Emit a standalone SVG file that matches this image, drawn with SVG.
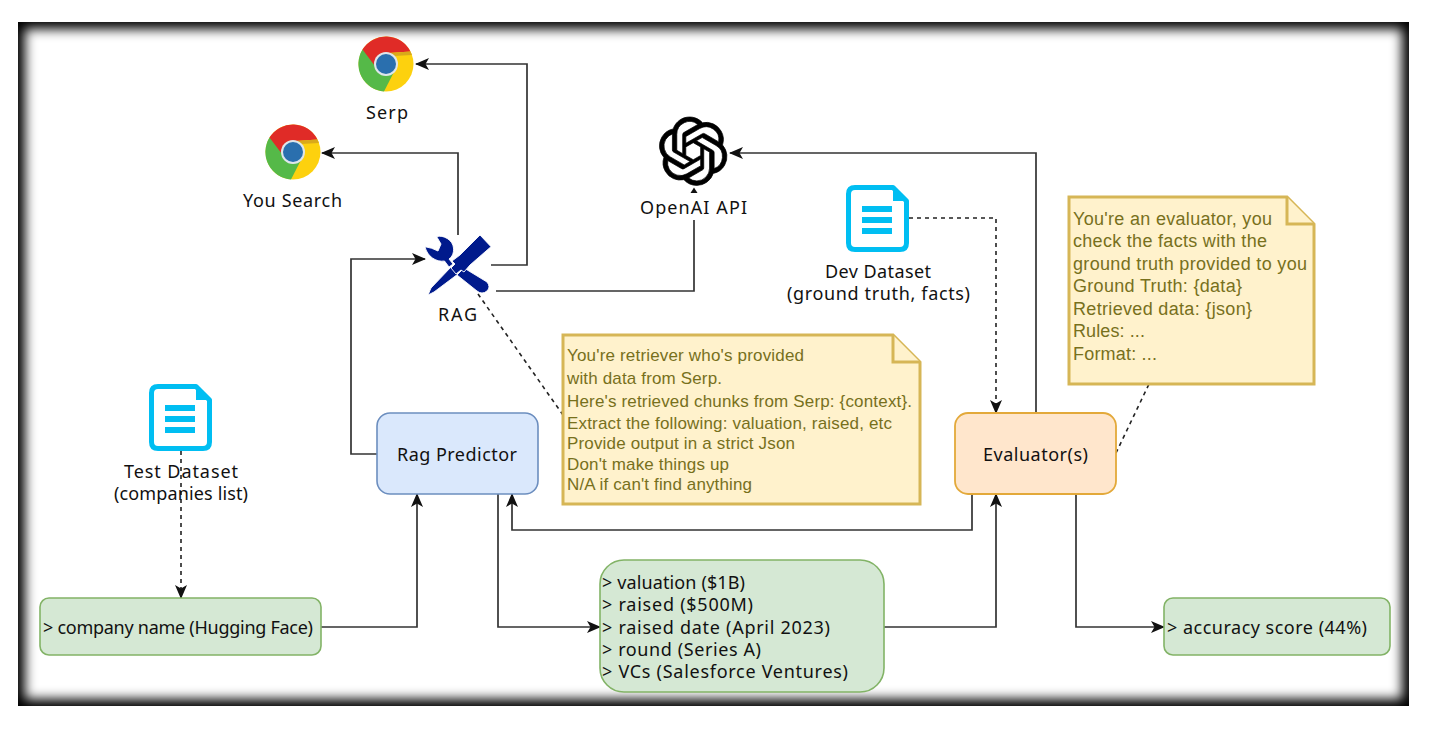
<svg xmlns="http://www.w3.org/2000/svg" xmlns:xlink="http://www.w3.org/1999/xlink" width="1434" height="732" viewBox="0 0 1434 732">
<style>
.lbl{font-family:"Noto Sans","DejaVu Sans",sans-serif;font-size:18px;fill:#111}
.mid{text-anchor:middle}
.note{font-family:"Liberation Sans",Arial,sans-serif;font-size:17px;fill:#77701c}
.note2{font-size:18px}
.notebox{fill:#fff2cc;stroke:#d6b656;stroke-width:3}
.green{fill:#d5e8d4;stroke:#82b366;stroke-width:1.6}
.edge{fill:none;stroke:#333;stroke-width:1.7}
.dash{fill:none;stroke:#222;stroke-width:1.6;stroke-dasharray:4 4}
.tool{fill:#001a8c;stroke:#fff;stroke-width:0.9}
</style>
<defs>
<filter id="blur" x="-5%" y="-5%" width="110%" height="110%"><feGaussianBlur stdDeviation="6"/></filter>
<clipPath id="frameClip"><rect x="18" y="22" width="1391" height="684"/></clipPath>
<marker id="arrow" viewBox="0 0 14 12" refX="13" refY="6" markerWidth="14" markerHeight="12" markerUnits="userSpaceOnUse" orient="auto">
<path d="M0,0 L14,6 L0,12 L3.5,6 Z" fill="#111"/>
</marker>
<symbol id="chrome" viewBox="-28 -28 56 56" overflow="visible">
<circle r="27.5" fill="#fdd10e"/>
<path d="M-23.5,-14.5 A27.5,27.5 0 0 0 -2,27.4 L9,6 L0,0 Z" fill="#55b948"/>
<path d="M-23.5,-14.5 A27.5,27.5 0 0 1 24.5,-12.4 L2,-11 L-11,2 Z" fill="#e02b27"/>
<path d="M3,-11 L24.5,-12.4 L26,-9 L8,-8 Z" fill="#d9a91a"/>
<circle r="12" fill="#dfe6ea"/>
<circle r="10" fill="#2a6fae"/>
</symbol>
<symbol id="doc" viewBox="0 0 63 67" overflow="visible">
<path d="M9,2.5 H47 L60.5,16 V58 Q60.5,64.500 54,64.500 H9 Q2.5,64.500 2.5,58 V9 Q2.5,2.500 9,2.500 Z" fill="#fff" stroke="#00bef2" stroke-width="5" stroke-linejoin="round"/>
<path d="M47,1 L62,16 H47 Z" fill="#00bef2"/>
<rect x="16" y="21" width="30" height="6" fill="#00bef2"/>
<rect x="16" y="32" width="30" height="6" fill="#00bef2"/>
<rect x="16" y="43" width="30" height="6" fill="#00bef2"/>
</symbol>
</defs>
<rect width="1434" height="732" fill="#fff"/>
<g id="frame" clip-path="url(#frameClip)">
<rect x="18" y="22" width="1391" height="684" fill="#000"/>
<rect x="25" y="29" width="1377" height="670" fill="#fff" filter="url(#blur)"/>
</g>
<g id="connectors">
<path class="dash" d="M181,451 V598" marker-end="url(#arrow)"/>
<path class="edge" d="M321,627 H417 V494" marker-end="url(#arrow)"/>
<path class="edge" d="M377,454 H351 V259 H425" marker-end="url(#arrow)"/>
<path class="edge" d="M458,235 V153 H322" marker-end="url(#arrow)"/>
<path class="edge" d="M491,265 H527 V64 H416" marker-end="url(#arrow)"/>
<path class="edge" d="M496,291 H694 V220"/>
<path d="M694,187.500 L697.500,193 H690.500 Z" fill="#111"/>
<path class="edge" d="M1036,413 V153 H730" marker-end="url(#arrow)"/>
<path class="dash" d="M909,218 H996 V413" marker-end="url(#arrow)"/>
<path class="edge" d="M498,494 V627 H600" marker-end="url(#arrow)"/>
<path class="edge" d="M884,627 H996 V494" marker-end="url(#arrow)"/>
<path class="edge" d="M972,494 V530 H512 V494" marker-end="url(#arrow)"/>
<path class="edge" d="M1076,494 V627 H1164" marker-end="url(#arrow)"/>
<path class="dash" d="M478,294 L563,415"/>
<path class="dash" d="M1116,453 L1149,384"/>
</g>
<g id="serp">
<use xlink:href="#chrome" href="#chrome" x="358" y="36" width="56" height="56"/>
<text class="lbl mid" x="387" y="119" textLength="42">Serp</text>
</g>
<g id="you-search">
<use xlink:href="#chrome" href="#chrome" x="265" y="124" width="56" height="56"/>
<text class="lbl mid" x="292.500" y="207" textLength="99">You Search</text>
</g>
<g id="rag">
<path class="tool" d="M436.700,236.700 C443,234.500 453,240 453.500,248 C454,253 452,257 449,259 L453,264 L449,267 L444.500,261 C436,262.500 427,256 425,246.700 L431.700,248.300 L438,251 L441,244 Z"/>
<path class="tool" d="M457,275 L464,268 L487,282 Q491,287 487,291 Q482,295 477,291 Z"/>
<path class="tool" d="M451,267 L458,274 L434,292 L428,295 L431,288 Z"/>
<path class="tool" d="M480,235 L491,246.700 L470,265 L464,272 L461,270 L456,274 L451,268 L455,264 L452,261 L460,255 Z"/>
<text class="lbl mid" x="457.500" y="321" textLength="39">RAG</text>
</g>
<g id="openai">
<path transform="translate(659,117) scale(2.85)" fill="#000" stroke="#000" stroke-width="0.25" d="M22.2819 9.8211a5.9847 5.9847 0 0 0-.5157-4.9108 6.0462 6.0462 0 0 0-6.5098-2.9A6.0651 6.0651 0 0 0 4.9807 4.1818a5.9847 5.9847 0 0 0-3.9977 2.9 6.0462 6.0462 0 0 0 .7427 7.0966 5.98 5.98 0 0 0 .511 4.9107 6.051 6.051 0 0 0 6.5146 2.9001A5.9847 5.9847 0 0 0 13.2599 24a6.0557 6.0557 0 0 0 5.7718-4.2058 5.9894 5.9894 0 0 0 3.9977-2.9001 6.0557 6.0557 0 0 0-.7475-7.0729zm-9.022 12.6081a4.4755 4.4755 0 0 1-2.8764-1.0408l.1419-.0804 4.7783-2.7582a.7948.7948 0 0 0 .3927-.6813v-6.7369l2.02 1.1686a.071.071 0 0 1 .038.052v5.5826a4.504 4.504 0 0 1-4.4945 4.4944zm-9.6607-4.1254a4.4708 4.4708 0 0 1-.5346-3.0137l.142.0852 4.783 2.7582a.7712.7712 0 0 0 .7806 0l5.8428-3.3685v2.3324a.0804.0804 0 0 1-.0332.0615L9.74 19.9502a4.4992 4.4992 0 0 1-6.1408-1.6464zM2.3408 7.8956a4.485 4.485 0 0 1 2.3655-1.9728V11.6a.7664.7664 0 0 0 .3879.6765l5.8144 3.3543-2.0201 1.1685a.0757.0757 0 0 1-.071 0l-4.8303-2.7865A4.504 4.504 0 0 1 2.3408 7.872zm16.5963 3.8558L13.1038 8.364 15.1192 7.2a.0757.0757 0 0 1 .071 0l4.8303 2.7913a4.4944 4.4944 0 0 1-.6765 8.1042v-5.6772a.79.79 0 0 0-.407-.667zm2.0107-3.0231l-.142-.0852-4.7735-2.7818a.7759.7759 0 0 0-.7854 0L9.409 9.2297V6.8974a.0662.0662 0 0 1 .0284-.0615l4.8303-2.7866a4.4992 4.4992 0 0 1 6.6802 4.66zM8.3065 12.863l-2.02-1.1638a.0804.0804 0 0 1-.038-.0567V6.0742a4.4992 4.4992 0 0 1 7.3757-3.4537l-.142.0805L8.704 5.459a.7948.7948 0 0 0-.3927.6813zm1.0976-2.3654l2.602-1.4998 2.6069 1.4998v2.9994l-2.5974 1.4997-2.6067-1.4997Z"/>
<rect x="636" y="195" width="114" height="25" fill="#fff"/>
<text class="lbl mid" x="693.500" y="214" textLength="107">OpenAI API</text>
</g>
<g id="dev-dataset">
<use xlink:href="#doc" href="#doc" x="846" y="185" width="63" height="67"/>
<text class="lbl mid" x="878" y="278" textLength="106">Dev Dataset</text>
<text class="lbl mid" x="878.500" y="300" textLength="183">(ground truth, facts)</text>
</g>
<g id="test-dataset">
<use xlink:href="#doc" href="#doc" x="149" y="384" width="63" height="67"/>
<text class="lbl mid" x="181" y="478" textLength="114">Test Dataset</text>
<text class="lbl mid" x="181" y="500" textLength="134">(companies list)</text>
</g>
<g id="rag-predictor">
<rect x="377" y="413" width="161" height="81" rx="13" fill="#dae8fc" stroke="#6c8ebf" stroke-width="1.6"/>
<text class="lbl mid" x="457" y="461" textLength="120">Rag Predictor</text>
</g>
<g id="evaluator">
<rect x="955" y="413" width="161" height="81" rx="13" fill="#ffe6cc" stroke="#e3a93a" stroke-width="1.8"/>
<text class="lbl mid" x="1035.500" y="461" textLength="105">Evaluator(s)</text>
</g>
<g id="retriever-note">
<path class="notebox" d="M563,335 H893 L920,362 V504 H563 Z"/>
<path class="notebox" d="M893,335 V362 H920"/>
<text class="note" x="567" y="361" textLength="237">You're retriever who's provided</text>
<text class="note" x="567" y="384" textLength="155">with data from Serp.</text>
<text class="note" x="567" y="407" textLength="345">Here's retrieved chunks from Serp: {context}.</text>
<text class="note" x="567" y="429" textLength="325">Extract the following: valuation, raised, etc</text>
<text class="note" x="567" y="449" textLength="228">Provide output in a strict Json</text>
<text class="note" x="567" y="470" textLength="162">Don't make things up</text>
<text class="note" x="567" y="490" textLength="185">N/A if can't find anything</text>
</g>
<g id="evaluator-note">
<path class="notebox" d="M1069,197 H1287 L1314,224 V384 H1069 Z"/>
<path class="notebox" d="M1287,197 V224 H1314"/>
<text class="note note2" x="1073" y="225" textLength="199">You're an evaluator, you</text>
<text class="note note2" x="1073" y="247" textLength="194">check the facts with the</text>
<text class="note note2" x="1073" y="270" textLength="234">ground truth provided to you</text>
<text class="note note2" x="1073" y="292" textLength="169">Ground Truth: {data}</text>
<text class="note note2" x="1073" y="315" textLength="179">Retrieved data: {json}</text>
<text class="note note2" x="1073" y="337" textLength="72">Rules: ...</text>
<text class="note note2" x="1073" y="360" textLength="84">Format: ...</text>
</g>
<g id="company-name">
<rect class="green" x="40" y="598" width="281" height="57" rx="9"/>
<text class="lbl" x="43" y="634" textLength="270">&gt; company name (Hugging Face)</text>
</g>
<g id="extracted-output">
<rect class="green" x="600" y="560" width="284" height="132" rx="24"/>
<text class="lbl" x="602" y="589" textLength="143">&gt; valuation ($1B)</text>
<text class="lbl" x="602" y="611" textLength="151">&gt; raised ($500M)</text>
<text class="lbl" x="602" y="634" textLength="228">&gt; raised date (April 2023)</text>
<text class="lbl" x="602" y="656" textLength="159">&gt; round (Series A)</text>
<text class="lbl" x="602" y="678" textLength="246">&gt; VCs (Salesforce Ventures)</text>
</g>
<g id="accuracy">
<rect class="green" x="1164" y="598" width="226" height="57" rx="9"/>
<text class="lbl" x="1167" y="634" textLength="200">&gt; accuracy score (44%)</text>
</g>
</svg>
